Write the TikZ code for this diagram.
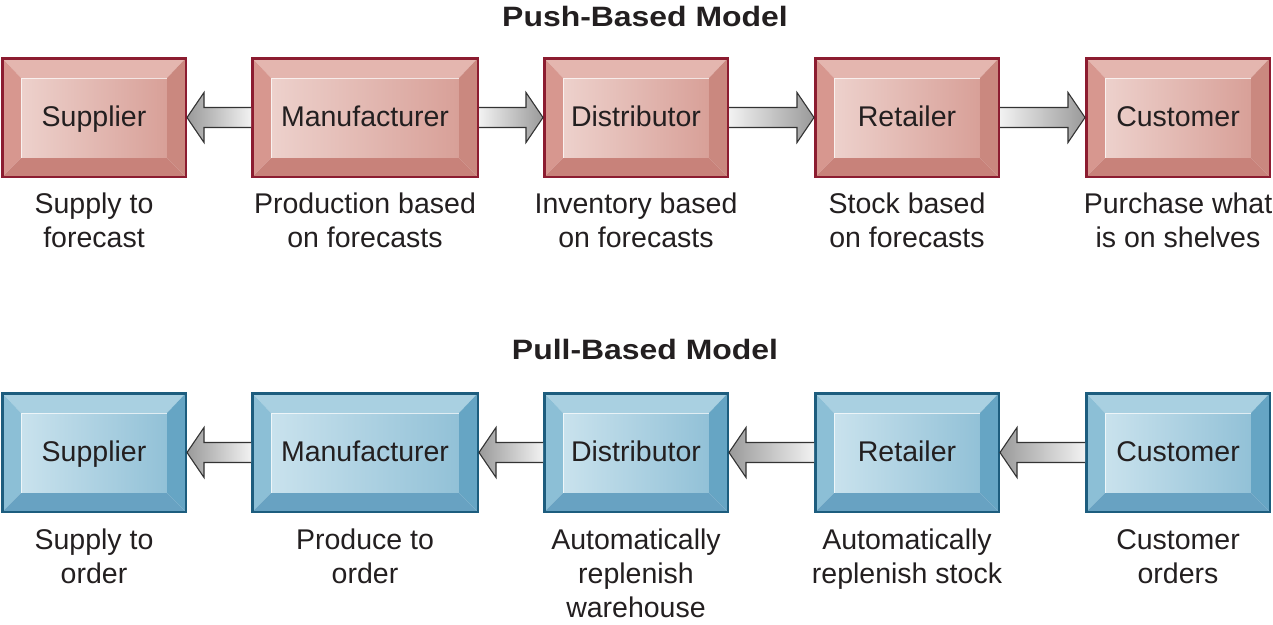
\documentclass[tikz,border=0pt]{standalone}
\usepackage{fontspec}
\usepackage{graphicx}
\setmainfont{Liberation Sans}
\usetikzlibrary{calc}
\definecolor{txt}{HTML}{231F20}
\definecolor{redborder}{HTML}{8C1C30}
\definecolor{redtop}{HTML}{E4B6AF}
\definecolor{redleft}{HTML}{D7978F}
\definecolor{redright}{HTML}{CA887F}
\definecolor{redbot}{HTML}{C8827A}
\definecolor{redfaceL}{HTML}{EDD1CC}
\definecolor{redfaceR}{HTML}{D8A098}
\definecolor{blueborder}{HTML}{1D5D7E}
\definecolor{bluetop}{HTML}{A9D0E1}
\definecolor{blueleft}{HTML}{8CBFD6}
\definecolor{blueright}{HTML}{66A5C4}
\definecolor{bluebot}{HTML}{68A2C2}
\definecolor{bluefaceL}{HTML}{C9E2ED}
\definecolor{bluefaceR}{HTML}{92C1D7}
\definecolor{arrlight}{HTML}{F2F2F2}
\definecolor{arrdark}{HTML}{9A9A9A}
\definecolor{arrline}{HTML}{333333}
\newcommand\bevelpic[6]{%
  \coordinate (bNW) at (path picture bounding box.north west);
  \coordinate (bNE) at (path picture bounding box.north east);
  \coordinate (bSE) at (path picture bounding box.south east);
  \coordinate (bSW) at (path picture bounding box.south west);
  \coordinate (iNW) at ($(bNW)+(19pt,-20pt)$);
  \coordinate (iNE) at ($(bNE)+(-19pt,-20pt)$);
  \coordinate (iSE) at ($(bSE)+(-19pt,19pt)$);
  \coordinate (iSW) at ($(bSW)+(19pt,19pt)$);
  \fill[#1] (bNW)--(bNE)--(iNE)--(iNW)--cycle;
  \fill[#2] (bNW)--(iNW)--(iSW)--(bSW)--cycle;
  \fill[#3] (bNE)--(bSE)--(iSE)--(iNE)--cycle;
  \fill[#4] (bSW)--(iSW)--(iSE)--(bSE)--cycle;
  \shade[left color=#5,right color=#6] (iNW) rectangle (iSE);
  \draw[white,opacity=.7,line width=1.4pt] (iSW)--(iNW)--(iNE);
}
\newcommand\rarrow[2]{%
  \path[blockarrow, left color=arrlight, right color=arrdark]
    ($(#1.east)+(0,10pt)$) -- ($(#2.west)+(-17pt,10pt)$) -- ($(#2.west)+(-17pt,25pt)$)
    -- (#2.west) -- ($(#2.west)+(-17pt,-25pt)$) -- ($(#2.west)+(-17pt,-10pt)$)
    -- ($(#1.east)+(0,-10pt)$);
}
\newcommand\larrow[2]{%
  \path[blockarrow, left color=arrdark, right color=arrlight]
    ($(#1.west)+(0,10pt)$) -- ($(#2.east)+(17pt,10pt)$) -- ($(#2.east)+(17pt,25pt)$)
    -- (#2.east) -- ($(#2.east)+(17pt,-25pt)$) -- ($(#2.east)+(17pt,-10pt)$)
    -- ($(#1.west)+(0,-10pt)$);
}
\tikzset{
  stagebox/.style={minimum width=#1, minimum height=118.5pt, inner sep=0pt,
    line width=2.5pt, text height=22pt, text depth=5pt,
    font=\fontsize{28.5pt}{34pt}\selectfont, text=txt},
  redbox/.style={stagebox=#1, draw=redborder,
    path picture={\bevelpic{redtop}{redleft}{redright}{redbot}{redfaceL}{redfaceR}}},
  bluebox/.style={stagebox=#1, draw=blueborder,
    path picture={\bevelpic{bluetop}{blueleft}{blueright}{bluebot}{bluefaceL}{bluefaceR}}},
  labtxt/.style={align=center, inner sep=0pt, anchor=north,
    font=\fontsize{28.5pt}{34pt}\selectfont, text=txt},
  titletxt/.style={inner sep=0pt, anchor=base,
    font=\fontsize{28pt}{32pt}\selectfont\bfseries, text=txt},
  blockarrow/.style={draw=arrline, line width=1.1pt, line join=miter}
}
\begin{document}
\begin{tikzpicture}[x=1pt,y=-1pt]
\useasboundingbox (0,0) rectangle (1273,624);
% titles
\node[titletxt] (t1) at (645,26) {\scalebox{1.14}[1]{Push-Based Model}};
\node[titletxt] (t2) at (645,359) {\scalebox{1.14}[1]{Pull-Based Model}};
% push row
\node[redbox=183.5pt] (ps) at (94,117.5) {Supplier};
\node[redbox=225.5pt] (pm) at (365,117.5) {Manufacturer};
\node[redbox=183.5pt] (pd) at (636,117.5) {Distributor};
\node[redbox=183.5pt] (pr) at (907,117.5) {Retailer};
\node[redbox=183.5pt] (pc) at (1178,117.5) {Customer};
\larrow{pm}{ps}
\rarrow{pm}{pd}
\rarrow{pd}{pr}
\rarrow{pr}{pc}
\node[labtxt] (lps) at ($(ps.south)+(0,-15pt)$) {Supply to\\forecast};
\node[labtxt] (lpm) at ($(pm.south)+(0,-15pt)$) {Production based\\on forecasts};
\node[labtxt] (lpd) at ($(pd.south)+(0,-15pt)$) {Inventory based\\on forecasts};
\node[labtxt] (lpr) at ($(pr.south)+(0,-15pt)$) {Stock based\\on forecasts};
\node[labtxt] (lpc) at ($(pc.south)+(0,-15pt)$) {Purchase what\\is on shelves};
% pull row
\node[bluebox=183.5pt] (us) at (94,452.5) {Supplier};
\node[bluebox=225.5pt] (um) at (365,452.5) {Manufacturer};
\node[bluebox=183.5pt] (ud) at (636,452.5) {Distributor};
\node[bluebox=183.5pt] (ur) at (907,452.5) {Retailer};
\node[bluebox=183.5pt] (uc) at (1178,452.5) {Customer};
\larrow{um}{us}
\larrow{ud}{um}
\larrow{ur}{ud}
\larrow{uc}{ur}
\node[labtxt] (lus) at ($(us.south)+(0,-16pt)$) {Supply to\\order};
\node[labtxt] (lum) at ($(um.south)+(0,-16pt)$) {Produce to\\order};
\node[labtxt] (lud) at ($(ud.south)+(0,-16pt)$) {Automatically\\replenish\\warehouse};
\node[labtxt] (lur) at ($(ur.south)+(0,-16pt)$) {Automatically\\replenish stock};
\node[labtxt] (luc) at ($(uc.south)+(0,-16pt)$) {Customer\\orders};
\end{tikzpicture}
\end{document}
